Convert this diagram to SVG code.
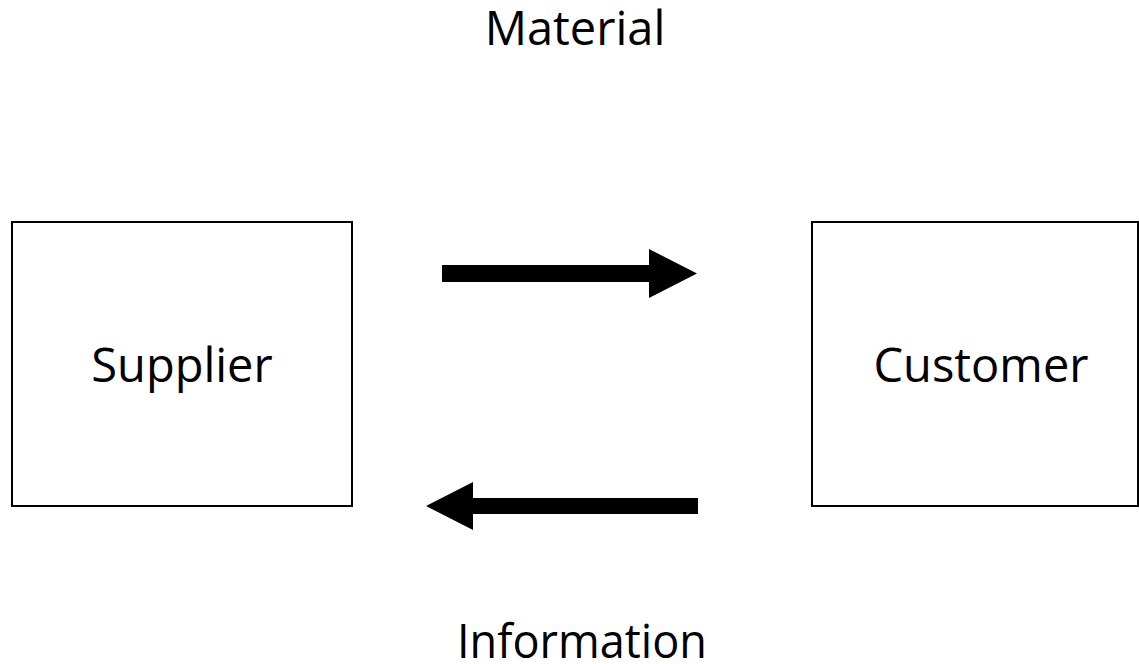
<svg xmlns="http://www.w3.org/2000/svg" width="1139" height="664" viewBox="0 0 1139 664">
  <style>
    .box { fill: #ffffff; stroke: #000000; stroke-width: 2; }
    .label { font-family: "Open Sans", "Noto Sans", sans-serif; font-size: 47px; fill: #000000; text-anchor: middle; }
    .arrow { fill: #000000; stroke: none; }
  </style>
  <rect width="1139" height="664" fill="#ffffff"/>

  <g id="supplier">
    <rect class="box" x="12" y="222" width="340" height="284"/>
    <text class="label" x="182" y="382">Supplier</text>
  </g>

  <g id="customer">
    <rect class="box" x="812" y="222" width="326" height="284"/>
    <text class="label" x="981" y="382">Customer</text>
  </g>

  <g id="connectors">
    <!-- material flow: supplier to customer -->
    <polygon class="arrow" points="442,265 649,265 649,249 697,273.5 649,298 649,282 442,282"/>
    <!-- information flow: customer to supplier -->
    <polygon class="arrow" points="698,498 473,498 473,482 426,506 473,530 473,514 698,514"/>
  </g>

  <g id="labels">
    <text class="label" x="575" y="45">Material</text>
    <text class="label" x="582" y="658" textLength="250" lengthAdjust="spacingAndGlyphs">Information</text>
  </g>
</svg>
